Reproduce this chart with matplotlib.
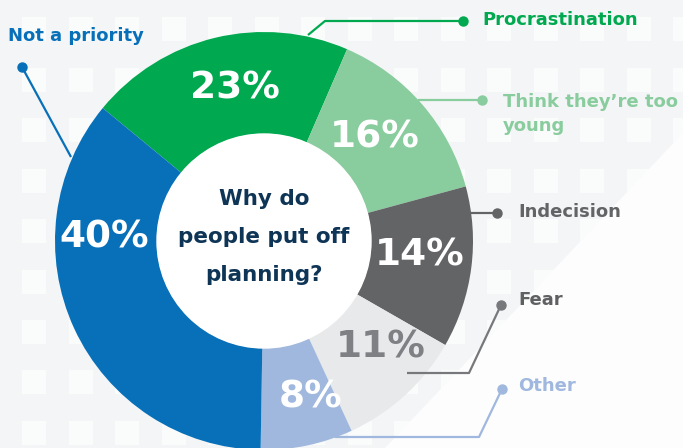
import numpy as np
import matplotlib.pyplot as plt
from matplotlib.patches import Rectangle, Polygon, Circle

# Datos del gráfico (porcentajes tal como aparecen; suman 112)
categorias = ['Procrastination', 'Think they\u2019re too\nyoung', 'Indecision',
              'Fear', 'Other', 'Not a priority']
valores = [23, 16, 14, 11, 8, 40]
etiquetas_pct = ['23%', '16%', '14%', '11%', '8%', '40%']
colores = ['#00A94F', '#89CC9D', '#636466', '#E8E9EB', '#A0B8DE', '#0770B9']
colores_pct = ['white', 'white', 'white', '#7F8083', 'white', 'white']
colores_texto = ['#00A94F', '#89CC9D', '#636466', '#5F6062', '#A0B8DE', '#0770B9']
colores_linea = ['#00A94F', '#89CC9D', '#636466', '#77787B', '#A0B8DE', '#0770B9']
titulo_centro = 'Why do\npeople put off\nplanning?'

# Tamaño en píxeles de la imagen
W, H = 683, 448


def Y(y):
    # coordenada vertical de la imagen (hacia abajo) -> coordenada del eje
    return H - y


fig = plt.figure(figsize=(W / 100, H / 100), dpi=100)
ax = fig.add_axes([0, 0, 1, 1])
fig.patch.set_facecolor('#F4F5F7')

# Fondo: cuadrícula de cuadrados blancos muy suaves y zona blanca diagonal
for cx in np.arange(22, W, 46.5):
    for cy in np.arange(17, H, 50.5):
        ax.add_patch(Rectangle((cx, Y(cy + 24)), 24, 24, color='#FAFBFB', lw=0, zorder=0))
ax.add_patch(Polygon([(W, Y(133)), (W, Y(H)), (385, Y(H))], closed=True,
                     color='#FDFDFD', lw=0, zorder=0.5))

# Anillo
centro = (264, Y(241))
radio = 209
ax.pie(valores, colors=colores, startangle=140.5, counterclock=False,
       radius=radio, center=centro,
       wedgeprops=dict(width=radio - 107, edgecolor='none', linewidth=0))
ax.add_patch(Circle(centro, 107, color='white', zorder=3))

# Porcentajes dentro de cada sector
pos_pct = [(235, 88), (375, 137), (420, 255), (381, 348), (311, 398), (104, 237)]
for (px, py), txt, c in zip(pos_pct, etiquetas_pct, colores_pct):
    ax.text(px, Y(py), txt, color=c, fontsize=27, fontweight='heavy',
            ha='center', va='center', zorder=5)

# Texto central
ax.text(264, Y(237), titulo_centro, color='#0E3456', fontsize=15.5,
        fontweight='bold', ha='center', va='center', linespacing=2.1, zorder=5)

# Líneas guía con punto al final
lineas = [
    [(308, 35), (325, 21), (463, 21)],
    [(418, 100), (482, 100)],
    [(470, 213), (497, 213)],
    [(407, 373), (469, 373), (501, 305)],
    [(335, 437), (479, 437), (502, 389)],
    [(71, 157), (22, 67)],
]
pos_texto = [(482, 20), (503, 114), (518, 212), (518, 300), (518, 386), (8, 36)]
for pts, c, (tx, ty), nombre, ct in zip(lineas, colores_linea, pos_texto,
                                        categorias, colores_texto):
    xs = [p[0] for p in pts]
    ys = [Y(p[1]) for p in pts]
    ax.plot(xs, ys, color=c, lw=1.6, zorder=6, solid_capstyle='butt')
    ax.plot(xs[-1], ys[-1], 'o', color=c, ms=6.5, zorder=6)
    ax.text(tx, Y(ty), nombre, color=ct, fontsize=13, fontweight='bold',
            ha='left', va='center', linespacing=1.45, zorder=6)

ax.set_xlim(0, W)
ax.set_ylim(0, H)
ax.set_aspect('equal')
ax.axis('off')

fig.savefig('out.png', dpi=100, facecolor=fig.get_facecolor())
